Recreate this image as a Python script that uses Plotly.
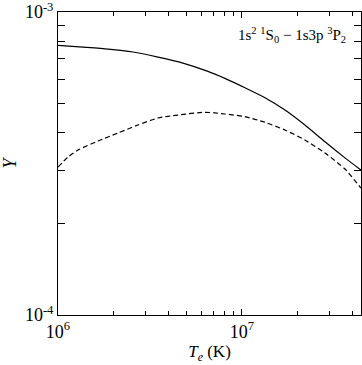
import plotly.graph_objects as go

# Effective collision strength vs electron temperature
temp_solid = [1.0e6, 1.367e6, 1.869e6, 2.557e6, 3.495e6, 4.778e6, 6.534e6, 8.08e6,
              1.038e7, 1.334e7, 1.713e7, 2.199e7, 2.826e7, 3.629e7, 4.43e7]
ups_solid = [7.765e-4, 7.66e-4, 7.547e-4, 7.379e-4, 7.10e-4, 6.784e-4, 6.37e-4, 6.04e-4,
             5.625e-4, 5.216e-4, 4.75e-4, 4.238e-4, 3.73e-4, 3.30e-4, 3.01e-4]

temp_dash = [1.0e6, 1.133e6, 1.285e6, 1.65e6, 2.119e6, 2.721e6, 3.495e6, 4.49e6, 6.295e6,
             8.08e6, 1.038e7, 1.334e7, 1.713e7, 2.199e7, 2.826e7, 3.629e7, 4.43e7]
ups_dash = [3.078e-4, 3.322e-4, 3.504e-4, 3.752e-4, 3.988e-4, 4.238e-4, 4.468e-4, 4.571e-4, 4.667e-4,
            4.607e-4, 4.514e-4, 4.325e-4, 4.08e-4, 3.78e-4, 3.425e-4, 3.032e-4, 2.625e-4]

x_ticks = [1e6, 1e7]
x_labels = ["10<sup>6</sup>", "10<sup>7</sup>"]
x_minor = [2e6, 3e6, 4e6, 5e6, 6e6, 7e6, 8e6, 9e6, 2e7, 3e7, 4e7]
y_ticks = [1e-4, 1e-3]
y_labels = ["10<sup>-4</sup>", "10<sup>-3</sup>"]
y_minor = [2e-4, 3e-4, 4e-4, 5e-4, 6e-4, 7e-4, 8e-4, 9e-4]

font = "Liberation Serif"

fig = go.Figure()
fig.add_trace(go.Scatter(x=temp_solid, y=ups_solid, mode="lines",
                         line=dict(color="black", width=1.2, shape="spline", smoothing=0.6)))
fig.add_trace(go.Scatter(x=temp_dash, y=ups_dash, mode="lines",
                         line=dict(color="black", width=1.2, dash="5px,3px",
                                   shape="spline", smoothing=0.6)))

axis_common = dict(type="log", showgrid=False, zeroline=False, showline=True,
                   linecolor="black", linewidth=1, mirror="allticks",
                   ticks="inside", ticklen=6, tickcolor="black", automargin=False,
                   ticklabeloverflow="allow",
                   tickfont=dict(family=font, size=18, color="black"))

fig.update_xaxes(range=[6, 7.647], tickvals=x_ticks, ticktext=x_labels,
                 minor=dict(ticks="inside", ticklen=4, tickcolor="black", tickvals=x_minor),
                 title=dict(text="<i>T<sub>e</sub></i> (K)", standoff=4,
                            font=dict(family=font, size=17, color="black")),
                 **axis_common)
fig.update_yaxes(range=[-4.0001, -2.9999], tickvals=y_ticks, ticktext=y_labels,
                 minor=dict(ticks="inside", ticklen=7, tickcolor="black", tickvals=y_minor),
                 title=dict(text="<i>Υ</i>", standoff=16,
                            font=dict(family=font, size=18, color="black")),
                 **axis_common)

fig.add_annotation(x=0.957, y=0.924, xref="paper", yref="paper",
                   xanchor="right", yanchor="middle", showarrow=False,
                   text="1s<sup>2</sup> <sup>1</sup>S<sub>0</sub> − 1s3p <sup>3</sup>P<sub>2</sub>",
                   font=dict(family=font, size=15, color="black"))

fig.update_layout(width=362, height=365, showlegend=False,
                  margin=dict(l=58, r=1, t=12, b=50),
                  plot_bgcolor="white", paper_bgcolor="white")

# page body has a default 8px margin; drop it so the figure fills the window
fig.write_html("out.html", config={"displayModeBar": False},
               post_script="document.body.style.margin='0';")
